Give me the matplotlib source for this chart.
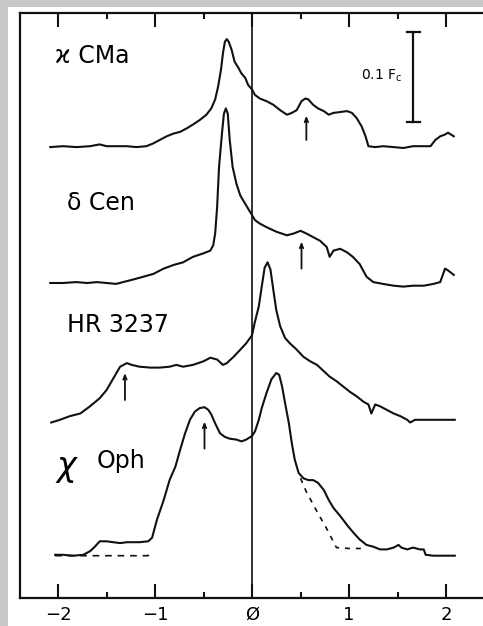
import numpy as np
import matplotlib.pyplot as plt
from matplotlib.patches import Rectangle

# 横轴: 速度 (刻度单位), 纵轴: 高于连续谱的流量 (F_c)
kcma_x = [-2.08, -1.95, -1.81, -1.67, -1.57, -1.50, -1.40, -1.29, -1.19, -1.09,
          -1.02, -0.95, -0.88, -0.81, -0.74, -0.67, -0.61, -0.54, -0.47, -0.42,
          -0.38, -0.35, -0.32, -0.30, -0.28, -0.26, -0.24, -0.21, -0.18, -0.14,
          -0.11, -0.07, -0.04, 0.00, 0.03, 0.08, 0.15, 0.22, 0.29, 0.36,
          0.41, 0.46, 0.51, 0.55, 0.58, 0.63, 0.68, 0.74, 0.79, 0.84,
          0.91, 0.98, 1.03, 1.08, 1.13, 1.17, 1.20, 1.27, 1.35, 1.46,
          1.56, 1.66, 1.77, 1.84, 1.89, 1.94, 1.99, 2.02, 2.08]
kcma_y = [0.000, 0.001, 0.000, 0.001, 0.003, 0.001, 0.001, 0.001, 0.000, 0.001,
          0.004, 0.008, 0.012, 0.015, 0.017, 0.021, 0.025, 0.030, 0.036, 0.043,
          0.053, 0.067, 0.086, 0.104, 0.117, 0.120, 0.117, 0.108, 0.095, 0.088,
          0.082, 0.077, 0.069, 0.064, 0.058, 0.054, 0.051, 0.047, 0.041, 0.036,
          0.038, 0.041, 0.051, 0.054, 0.053, 0.047, 0.043, 0.040, 0.036, 0.038,
          0.039, 0.040, 0.038, 0.032, 0.023, 0.012, 0.001, 0.000, 0.001, 0.000,
          -0.001, 0.001, 0.001, 0.001, 0.008, 0.012, 0.014, 0.016, 0.012]

dcen_x = [-2.08, -1.95, -1.81, -1.70, -1.60, -1.50, -1.40, -1.33, -1.22, -1.12,
          -1.02, -0.91, -0.81, -0.71, -0.61, -0.50, -0.43, -0.40, -0.38, -0.36,
          -0.34, -0.31, -0.29, -0.27, -0.25, -0.23, -0.20, -0.16, -0.12, -0.07,
          -0.02, 0.03, 0.08, 0.15, 0.25, 0.36, 0.43, 0.50, 0.56, 0.63,
          0.70, 0.77, 0.80, 0.84, 0.91, 0.98, 1.04, 1.11, 1.18, 1.25,
          1.35, 1.46, 1.56, 1.66, 1.77, 1.87, 1.94, 1.99, 2.02, 2.08]
dcen_y = [0.000, 0.000, 0.001, 0.000, 0.001, 0.000, -0.001, 0.001, 0.004, 0.007,
          0.010, 0.016, 0.020, 0.023, 0.029, 0.033, 0.036, 0.042, 0.055, 0.084,
          0.129, 0.166, 0.188, 0.194, 0.188, 0.159, 0.129, 0.110, 0.097, 0.088,
          0.079, 0.070, 0.066, 0.062, 0.057, 0.053, 0.055, 0.058, 0.055, 0.051,
          0.047, 0.040, 0.029, 0.036, 0.038, 0.034, 0.029, 0.021, 0.007, 0.001,
          -0.001, -0.003, -0.004, -0.003, -0.003, -0.001, 0.001, 0.016, 0.014, 0.009]

hr_x = [-2.07, -1.98, -1.88, -1.77, -1.67, -1.57, -1.50, -1.43, -1.36, -1.29,
        -1.24, -1.16, -1.05, -0.95, -0.85, -0.78, -0.71, -0.61, -0.50, -0.43,
        -0.36, -0.30, -0.26, -0.19, -0.12, -0.06, 0.00, 0.03, 0.07, 0.10,
        0.13, 0.16, 0.19, 0.22, 0.25, 0.29, 0.34, 0.39, 0.46, 0.53,
        0.60, 0.67, 0.74, 0.80, 0.87, 0.94, 1.01, 1.08, 1.15, 1.20,
        1.23, 1.27, 1.32, 1.39, 1.46, 1.53, 1.60, 1.63, 1.68, 1.80,
        1.94, 2.09]
hr_y = [-0.003, 0.000, 0.004, 0.007, 0.015, 0.024, 0.033, 0.046, 0.059, 0.063,
        0.061, 0.059, 0.058, 0.058, 0.059, 0.061, 0.059, 0.061, 0.065, 0.069,
        0.067, 0.061, 0.063, 0.070, 0.078, 0.085, 0.094, 0.109, 0.126, 0.148,
        0.169, 0.175, 0.167, 0.144, 0.122, 0.104, 0.091, 0.085, 0.078, 0.070,
        0.065, 0.061, 0.054, 0.048, 0.043, 0.037, 0.031, 0.026, 0.020, 0.017,
        0.007, 0.017, 0.015, 0.011, 0.007, 0.004, 0.000, -0.003, 0.000, 0.000,
        0.000, 0.000]

oph_x = [-2.03, -1.95, -1.84, -1.74, -1.67, -1.62, -1.57, -1.50, -1.43, -1.36,
         -1.29, -1.22, -1.16, -1.07, -1.03, -0.98, -0.91, -0.85, -0.79, -0.74,
         -0.69, -0.64, -0.59, -0.54, -0.49, -0.45, -0.42, -0.38, -0.33, -0.28,
         -0.23, -0.16, -0.11, -0.06, 0.00, 0.03, 0.07, 0.10, 0.15, 0.20,
         0.25, 0.28, 0.31, 0.34, 0.38, 0.41, 0.44, 0.48, 0.53, 0.58,
         0.63, 0.68, 0.74, 0.79, 0.84, 0.91, 0.98, 1.05, 1.11, 1.18,
         1.25, 1.32, 1.39, 1.46, 1.51, 1.54, 1.60, 1.66, 1.73, 1.77,
         1.79, 1.87, 2.09]
oph_y = [0.001, 0.001, 0.000, 0.001, 0.005, 0.010, 0.016, 0.016, 0.015, 0.014,
         0.015, 0.015, 0.015, 0.016, 0.020, 0.040, 0.062, 0.084, 0.099, 0.118,
         0.136, 0.151, 0.160, 0.164, 0.165, 0.162, 0.157, 0.147, 0.136, 0.132,
         0.130, 0.129, 0.127, 0.129, 0.133, 0.138, 0.151, 0.164, 0.181, 0.196,
         0.203, 0.201, 0.188, 0.170, 0.147, 0.125, 0.107, 0.092, 0.086, 0.084,
         0.084, 0.081, 0.073, 0.062, 0.053, 0.044, 0.034, 0.025, 0.018, 0.012,
         0.010, 0.007, 0.007, 0.009, 0.012, 0.009, 0.007, 0.009, 0.007, 0.007,
         0.001, 0.000, 0.000]

# χ Oph 的虚线 (连续谱/翼部估计)
oph_dash_left_x = [-2.03, -1.07, -1.06]
oph_dash_left_y = [0.000, 0.000, 0.006]
oph_dash_right_x = [0.50, 0.56, 0.67, 0.77, 0.87, 1.00, 1.18]
oph_dash_right_y = [0.086, 0.071, 0.049, 0.030, 0.009, 0.008, 0.008]

stars = ['ϰ CMa', 'δ Cen', 'HR 3237', 'Oph']
offsets = [0.501, 0.350, 0.198, 0.047]   # 每条谱线连续谱所在高度

# 箭头标记 (x, 下端, 上端)
arrow_x = [0.56, 0.51, -1.31, -0.49]
arrow_lo = [0.509, 0.366, 0.220, 0.166]
arrow_hi = [0.536, 0.396, 0.250, 0.196]

tick_pos = [-2, -1, 0, 1, 2]
tick_lab = ['−2', '−1', 'Ø', '1', '2']
minor_pos = [-1.5, -0.5, 0.5, 1.5]

scale_len = 0.1   # 0.1 F_c

fig = plt.figure(figsize=(4.83, 6.26), dpi=100)
fig.patch.set_facecolor('#c8c8c8')
fig.patches.append(Rectangle((8 / 483, 0), 1, 619 / 626, transform=fig.transFigure,
                             facecolor='white', edgecolor='none', zorder=-5))
ax = fig.add_axes([19.5 / 483, 28 / 626, 463.5 / 483, 585 / 626])
ax.set_zorder(2)
ax.set_xlim(-2.397, 2.381)
ax.set_ylim(0, 0.650)

lw = 1.5
for xs, ys, off in zip([kcma_x, dcen_x, hr_x, oph_x], [kcma_y, dcen_y, hr_y, oph_y], offsets):
    ax.plot(xs, np.array(ys) + off, color='#111111', lw=lw, solid_joinstyle='round')

ax.plot(oph_dash_left_x, np.array(oph_dash_left_y) + offsets[3], color='#111111',
        lw=1.2, linestyle=(0, (4, 3.5)))
ax.plot(oph_dash_right_x, np.array(oph_dash_right_y) + offsets[3], color='#111111',
        lw=1.2, linestyle=(0, (3, 3.5)))

ax.axvline(0, color='#111111', lw=1.2)

for x, lo, hi in zip(arrow_x, arrow_lo, arrow_hi):
    ax.annotate('', xy=(x, hi), xytext=(x, lo),
                arrowprops=dict(arrowstyle='->,head_length=0.3,head_width=0.12',
                                lw=1.3, color='#111111', shrinkA=0, shrinkB=0))

# 标尺 0.1 F_c
bx, btop = 1.663, 0.629
ax.plot([bx, bx], [btop - scale_len, btop], color='#111111', lw=1.6)
for yy in [btop - scale_len, btop]:
    ax.plot([bx - 0.07, bx + 0.07], [yy, yy], color='#111111', lw=1.6)
ax.text(1.546, 0.5756, '0.1 F$_\\mathregular{c}$', ha='right', va='baseline', fontsize=10)

# 星名
fs = 17
ax.text(-2.03, 0.594, stars[0], fontsize=fs, ha='left', va='baseline')
ax.text(-1.91, 0.431, stars[1], fontsize=fs, ha='left', va='baseline')
ax.text(-1.91, 0.296, stars[2], fontsize=fs, ha='left', va='baseline')
ax.text(-2.02, 0.146, 'χ', fontsize=24, style='italic', ha='left', va='center')
ax.text(-1.60, 0.1444, stars[3], fontsize=fs, ha='left', va='baseline')

ax.set_xticks(tick_pos)
ax.set_xticklabels(tick_lab, family='DejaVu Sans', fontsize=13)
ax.set_xticks(minor_pos, minor=True)
ax.set_yticks([])
ax.tick_params(which='both', direction='in', top=True, bottom=True, width=1.5,
               color='#111111')
ax.tick_params(which='major', length=10, pad=5.5)
ax.tick_params(which='minor', length=4.5)
ax.spines['right'].set_visible(False)
for s in ['left', 'top', 'bottom']:
    ax.spines[s].set_linewidth(1.6)
    ax.spines[s].set_color('#111111')

fig.savefig('out.png', dpi=100)
